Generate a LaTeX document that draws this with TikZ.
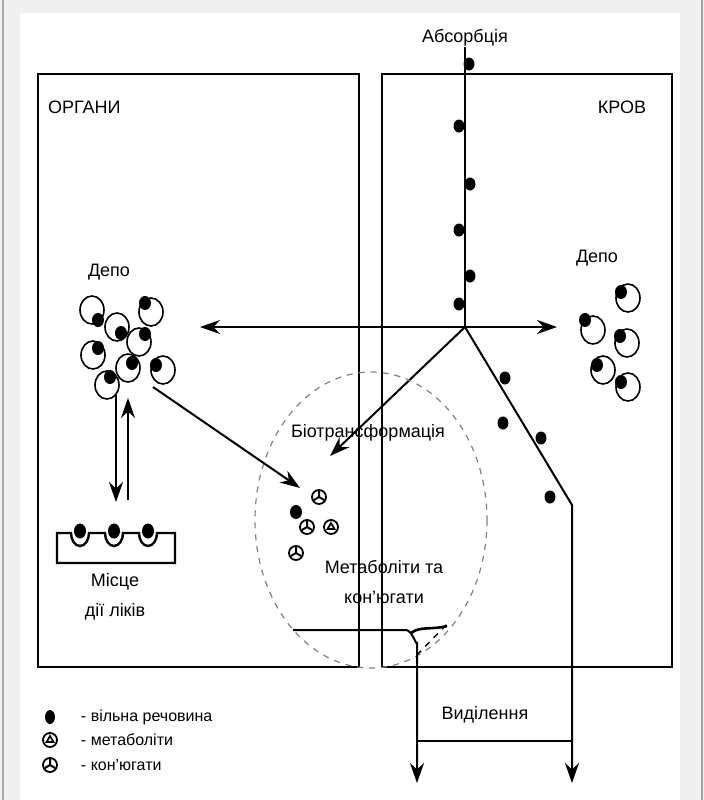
\documentclass[tikz,border=0pt]{standalone}
\usepackage{fontspec}
\setmainfont{Liberation Sans}
\usetikzlibrary{arrows.meta,positioning}

\tikzset{
 metab/.pic={\draw[line width=0.9pt] (0,0) circle [radius=7];
   \draw[line width=0.9pt] (-90:4) -- (30:4) -- (150:4) -- cycle;},
 conj/.pic={\draw[line width=0.9pt] (0,0) circle [radius=7];
   \draw[line width=1pt] (0,0) -- (-90:6) (0,0) -- (30:6) (0,0) -- (150:6);}
}

\begin{document}
\begin{tikzpicture}[x=0.5pt,y=-0.5pt,line width=1pt,
 >={Stealth[length=10pt,width=7pt]},
 lbl/.style={font=\fontsize{9}{15}\selectfont,inner sep=0pt,align=center},
 legend/.style={font=\fontsize{8}{10}\selectfont,inner sep=0pt,anchor=west},
 freedot/.style={fill=black},
 cell/.style={line width=0.8pt}]
\useasboundingbox (0,0) rectangle (704,800);
% frame
\fill[gray!12] (0,0) rectangle (704,800);
\fill[white] (20,13) rectangle (680,800);
\draw[gray!70,line width=1.2pt] (3,0) -- (3,800) (702,0) -- (702,800);

% compartments
\draw (38,74) rectangle (359,667);
\draw (382,74) rectangle (672,667);
\node[lbl,anchor=west] (organs) at (47,107) {ОРГАНИ};
\node[lbl,anchor=east] (blood) at (647,107) {КРОВ};

% absorption
\node[lbl] (absorb) at (465,38) {Абсорбція};
\coordinate (branch) at (465,327);
\coordinate (depotL) at (200,327);
\coordinate (depotR) at (557,327);
\coordinate (bioTip) at (330,456);
\coordinate (bendR) at (572,505);
\coordinate (outL) at (417,783);
\coordinate (outR) at (572,783);
\draw (absorb.south) -- (branch);
\foreach \px/\py in {469/64,459/126,470/184,459/230,470/276,459/304,
                     505/378,503/423,541/438,550/497}
  \fill[freedot] (\px,\py) ellipse [x radius=5.5,y radius=6.5];
\draw[->] (branch) -- (depotL);
\draw[->] (branch) -- (depotR);
\draw[->] (branch) -- (bioTip);
\draw[->] (branch) -- (bendR) -- (outR);

% depots
\node[lbl] (depoL) at (109,272) {Депо};
\node[lbl] (depoR) at (597,258) {Депо};
\foreach \cx/\cy/\dx/\dy in {92/310/98/320,151/312/145/303,117/327/121/333,
    139/342/145/334,93/355/98/348,128/368/132/363,163/370/156/365,107/385/110/377,
    628/298/621/292,593/330/585/320,627/343/620/336,603/370/597/365,628/387/621/382}
{\draw[cell] (\cx,\cy) ellipse [x radius=12,y radius=14];
 \fill[freedot] (\dx,\dy) ellipse [x radius=6,y radius=7];}

% site of action
\draw[->] (116,395) -- (116,502);
\draw[->] (128,500) -- (128,398);
\draw[line width=1.2pt] (57,563) -- (57,533) -- (71,533)
  arc [start angle=180,end angle=0,x radius=9,y radius=13] -- (105,533)
  arc [start angle=180,end angle=0,x radius=9,y radius=13] -- (139,533)
  arc [start angle=180,end angle=0,x radius=9,y radius=13] -- (175,533)
  -- (175,563) -- cycle;
\foreach \px in {80,114,148}
  \fill[freedot] (\px,531) ellipse [x radius=6,y radius=7.5];
\node[lbl] (site) at (115,597) {Місце\\дії ліків};

% biotransformation
\draw[gray,dashed,line width=0.6pt] (371,520) ellipse [x radius=116,y radius=148];
\node[lbl] (biotr) at (368,433) {Біотрансформація};
\draw[->] (153,387) -- (300,488);
\pic at (319,497) {conj};
\fill[freedot] (296,512) ellipse [x radius=6,y radius=7];
\pic at (307,527) {conj};
\pic at (331,527) {metab};
\pic at (296,553) {conj};
\node[lbl] (metabs) at (384,582) {Метаболіти та\\кон’югати};

% excretion
\draw[->] (293,630) -- (406,630) to[out=0,in=-90] (417,642) -- (outL);
\draw[line width=1.3pt] (411,633) .. controls (420,626) and (432,630) .. (447,626);
\draw[dashed,line width=0.7pt] (417,655) -- (447,624);
\draw (417,741) -- (572,741);
\node[lbl] (excr) at (485,715) {Виділення};

% legend
\fill[freedot] (50,717) ellipse [x radius=5,y radius=7];
\node[legend] (lgFree) at (80,717) {- вільна речовина};
\pic at (50,740) {metab};
\node[legend] (lgMetab) at (80,740) {- метаболіти};
\pic at (50,765) {conj};
\node[legend] (lgConj) at (80,765) {- кон’югати};
\end{tikzpicture}
\end{document}
